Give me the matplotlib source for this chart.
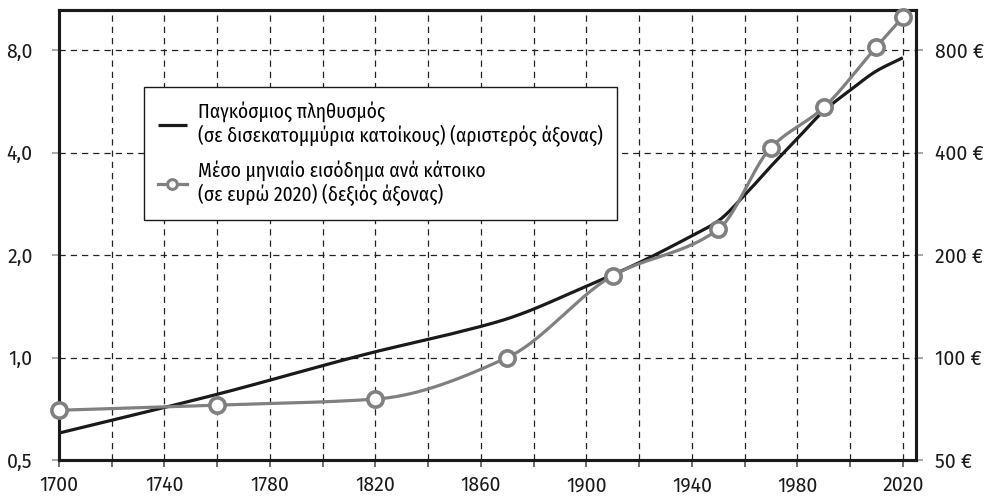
import numpy as np
import matplotlib
matplotlib.use("Agg")
import matplotlib.pyplot as plt
from matplotlib.ticker import FixedLocator, NullLocator
from matplotlib.lines import Line2D

plt.rcParams['font.family'] = ['Fira Sans', 'DejaVu Sans']

# Population (billions, left axis)
pop_years = [1700, 1760, 1820, 1850, 1870, 1900, 1920, 1940, 1950, 1960, 1970, 1980, 1990, 2000, 2010, 2020]
pop_values = [0.60, 0.78, 1.04, 1.18, 1.30, 1.62, 1.90, 2.28, 2.52, 3.0, 3.65, 4.4, 5.3, 6.1, 6.95, 7.6]

# Mean monthly income per capita (euro 2020, right axis)
inc_years = [1700, 1760, 1820, 1870, 1910, 1950, 1970, 1990, 2010, 2020]
inc_values = [70, 72.5, 75.5, 100, 174, 238, 414, 543, 819, 1000]

left_ticks = [0.5, 1, 2, 4, 8]
left_labels = ["0,5", "1,0", "2,0", "4,0", "8,0"]
right_ticks = [50, 100, 200, 400, 800]
right_labels = ["50 €", "100 €", "200 €", "400 €", "800 €"]
x_major = [1700, 1740, 1780, 1820, 1860, 1900, 1940, 1980, 2020]

label_pop = "Παγκόσμιος πληθυσμός\n(σε δισεκατομμύρια κατοίκους) (αριστερός άξονας)"
label_inc = "Μέσο μηνιαίο εισόδημα ανά κάτοικο\n(σε ευρώ 2020) (δεξιός άξονας)"


def pchip(x, y, xn):
    x = np.asarray(x, float); y = np.asarray(y, float)
    h = np.diff(x); d = np.diff(y) / h
    n = len(x); m = np.zeros(n)
    for k in range(1, n - 1):
        if d[k - 1] * d[k] > 0:
            w1 = 2 * h[k] + h[k - 1]; w2 = h[k] + 2 * h[k - 1]
            m[k] = (w1 + w2) / (w1 / d[k - 1] + w2 / d[k])
    m[0] = d[0]; m[-1] = d[-1]
    idx = np.clip(np.searchsorted(x, xn) - 1, 0, n - 2)
    t = (xn - x[idx]) / h[idx]
    h00 = 2 * t**3 - 3 * t**2 + 1; h10 = t**3 - 2 * t**2 + t
    h01 = -2 * t**3 + 3 * t**2; h11 = t**3 - t**2
    return h00 * y[idx] + h10 * h[idx] * m[idx] + h01 * y[idx + 1] + h11 * h[idx] * m[idx + 1]


fig = plt.figure(figsize=(9.92, 4.98), dpi=100)
ax = fig.add_axes([59 / 992, 38 / 498, 857 / 992, 450 / 498])
ax2 = ax.twinx()

xp = np.linspace(pop_years[0], pop_years[-1], 600)
yp = np.exp(pchip(pop_years, np.log(pop_values), xp))
l1, = ax.plot(xp, yp, color='#1a1a1a', lw=2.3, zorder=3, solid_capstyle='butt')

xi = np.linspace(inc_years[0], inc_years[-1], 600)
yi = np.exp(pchip(inc_years, np.log(inc_values), xi))
ax2.plot(xi, yi, color='#808080', lw=2.3, zorder=3)
ax2.plot(inc_years, inc_values, ls='none', marker='o', ms=11, mfc='white', mec='#808080', mew=2.6, zorder=4, clip_on=False)

ax.set_yscale('log', base=2)
ax2.set_yscale('log', base=2)
ax.set_xlim(1700, 2025)
ax.set_ylim(0.5, 10.5)
ax2.set_ylim(50, 1050)

ax.yaxis.set_major_locator(FixedLocator(left_ticks))
ax.set_yticklabels(left_labels)
ax.yaxis.set_minor_locator(NullLocator())
ax2.yaxis.set_major_locator(FixedLocator(right_ticks))
ax2.set_yticklabels(right_labels)
ax2.yaxis.set_minor_locator(NullLocator())

ax.set_xticks(x_major)
ax.set_xticks(np.arange(1720, 2021, 40), minor=True)
ax.set_xticklabels([str(v) for v in x_major])

for a in (ax, ax2):
    a.tick_params(axis='both', which='both', labelsize=14, colors='#999999', labelcolor='#1a1a1a', length=5, width=1.2)
ax.tick_params(axis='y', pad=14)
ax2.tick_params(axis='y', pad=9)
ax.tick_params(axis='x', which='both', pad=6.5, colors='#555555', labelcolor='#1a1a1a')

ax.grid(True, which='both', axis='x', color='#222222', ls=(0, (5, 4)), lw=0.9)
ax.grid(True, which='major', axis='y', color='#222222', ls=(0, (5, 4)), lw=0.9)
ax.set_axisbelow(True)

for a in (ax, ax2):
    for s in a.spines.values():
        s.set_color('#1a1a1a')
        s.set_linewidth(2.2)

h2 = Line2D([], [], color='#808080', lw=2.3, marker='o', ms=7, mfc='white', mec='#808080', mew=2.2)
leg = ax2.legend([l1, h2], [label_pop, label_inc], loc='upper left',
                 bbox_to_anchor=((144 - 59) / 857, (460 - 87) / 450), borderaxespad=0,
                 prop={'family': ['Fira Sans Condensed', 'DejaVu Sans'], 'size': 14},
                 frameon=True, fancybox=False, edgecolor='#1a1a1a', framealpha=1,
                 handlelength=1.5, handletextpad=0.6, labelspacing=0.65, borderpad=0.7)
for t in leg.get_texts():
    t.set_linespacing(1.2)
leg.get_frame().set_linewidth(1.0)
leg.set_zorder(10)

fig.savefig('out.png', dpi=100)
